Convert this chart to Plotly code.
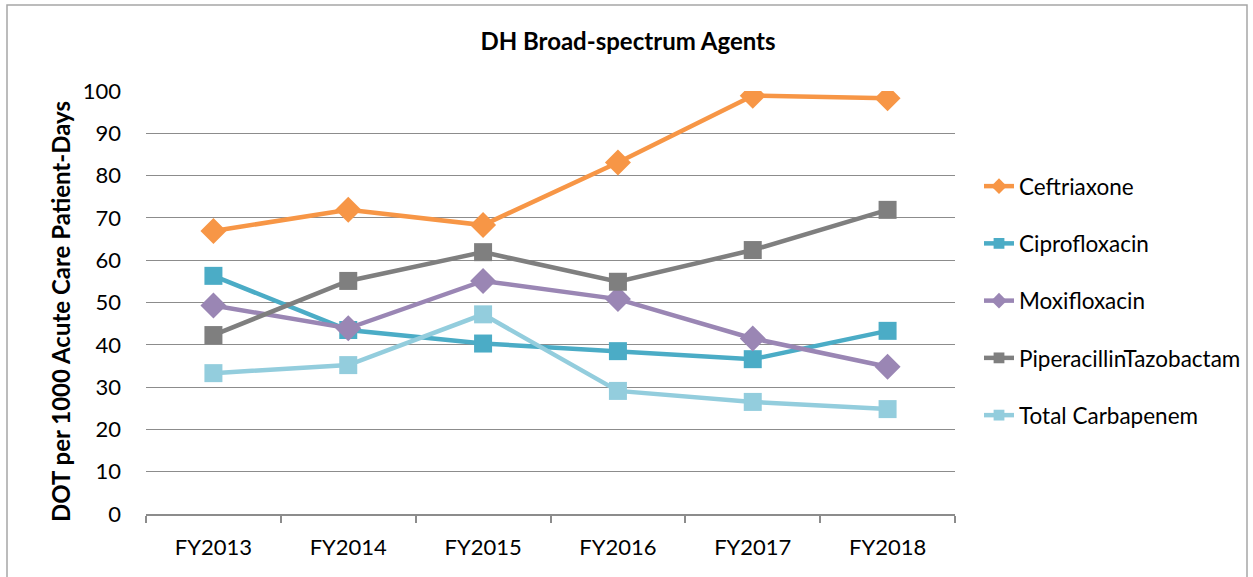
import plotly.graph_objects as go

categories = ["FY2013", "FY2014", "FY2015", "FY2016", "FY2017", "FY2018"]
ceftriaxone = [66.9, 71.9, 68.3, 83.1, 98.9, 98.3]
ciprofloxacin = [56.3, 43.5, 40.3, 38.5, 36.6, 43.3]
moxifloxacin = [49.3, 43.9, 55.1, 50.8, 41.5, 34.8]
pip_tazo = [42.3, 55.1, 61.9, 54.9, 62.4, 71.9]
carbapenem = [33.3, 35.2, 47.2, 29.1, 26.5, 24.8]

series = [
    ("Ceftriaxone", ceftriaxone, "#F79646", "diamond", 20),
    ("Ciprofloxacin", ciprofloxacin, "#4BACC6", "square", 18),
    ("Moxifloxacin", moxifloxacin, "#9A86B4", "diamond", 20),
    ("PiperacillinTazobactam", pip_tazo, "#7F7F7F", "square", 18),
    ("Total Carbapenem", carbapenem, "#93CDDD", "square", 18),
]

FONT = "Lato, Carlito, Calibri, sans-serif"

fig = go.Figure()
for i, (name, vals, color, sym, sz) in enumerate(series):
    fig.add_trace(go.Scatter(
        x=categories, y=vals, name=name, mode="lines+markers",
        line=dict(color=color, width=4.5),
        marker=dict(symbol=sym, size=sz, color=color),
        legendgroup=f"g{i}", showlegend=False,
    ))
for i, (name, vals, color, sym, sz) in enumerate(series):
    # legend-only entry with smaller marker, as in the original legend
    fig.add_trace(go.Scatter(
        x=[None], y=[None], name=name, mode="lines+markers",
        line=dict(color=color, width=4.5),
        marker=dict(symbol=sym, size=sz * 0.6, color=color),
        legendgroup=f"g{i}", showlegend=True,
    ))

W, H = 1253, 577
L, R, T, B = 146, 955, 91, 514

def px_to_paper_x(px):
    return (px - L) / (R - L)

def px_to_paper_y(py):
    return (B - py) / (B - T)

fig.update_layout(
    width=W, height=H,
    margin=dict(l=L, r=W - R, t=T, b=H - B, autoexpand=False),
    paper_bgcolor="white", plot_bgcolor="white",
    font=dict(family=FONT, size=22, color="#000000"),
    title=dict(text="<b>DH Broad-spectrum Agents</b>", x=628 / W, xref="container",
               xanchor="center", y=1 - 42 / H, yref="container", yanchor="middle",
               font=dict(family=FONT, size=24, color="#000000")),
    showlegend=True,
    legend=dict(x=px_to_paper_x(979), xanchor="left", y=px_to_paper_y(165), yanchor="top",
                font=dict(family=FONT, size=22.5, color="#000000"),
                tracegroupgap=25, traceorder="grouped",
                bgcolor="rgba(0,0,0,0)", itemwidth=30),
    xaxis=dict(type="category", range=[-0.5, 5.5], tickson="boundaries",
               ticks="outside", ticklen=7, tickcolor="#8C8C8C", tickwidth=1.5,
               showline=True, linecolor="#8C8C8C", linewidth=1.5,
               showgrid=False, tickfont=dict(family=FONT, size=22),
               ticklabelstandoff=13, fixedrange=True),
    yaxis=dict(range=[0, 100], dtick=10, showgrid=True, gridcolor="#8C8C8C", gridwidth=1.3,
               showline=False, zeroline=False, ticks="", ticklabelstandoff=24,
               tickfont=dict(family=FONT, size=22)),
)

fig.add_annotation(text="<b>DOT per 1000 Acute Care Patient-Days</b>", textangle=-90,
                   xref="paper", yref="paper", x=px_to_paper_x(60), y=px_to_paper_y(312),
                   xanchor="center", yanchor="middle", showarrow=False,
                   font=dict(family=FONT, size=24, color="#000000"))

fig.add_shape(type="rect", xref="paper", yref="paper",
              x0=px_to_paper_x(7), x1=px_to_paper_x(1247),
              y0=px_to_paper_y(600), y1=px_to_paper_y(5),
              line=dict(color="#A6A6A6", width=1.5), fillcolor="rgba(0,0,0,0)", layer="below")

fig.write_html("out.html", config={"displayModeBar": False},
               post_script="document.body.style.margin='0';document.body.style.overflow='hidden';")
